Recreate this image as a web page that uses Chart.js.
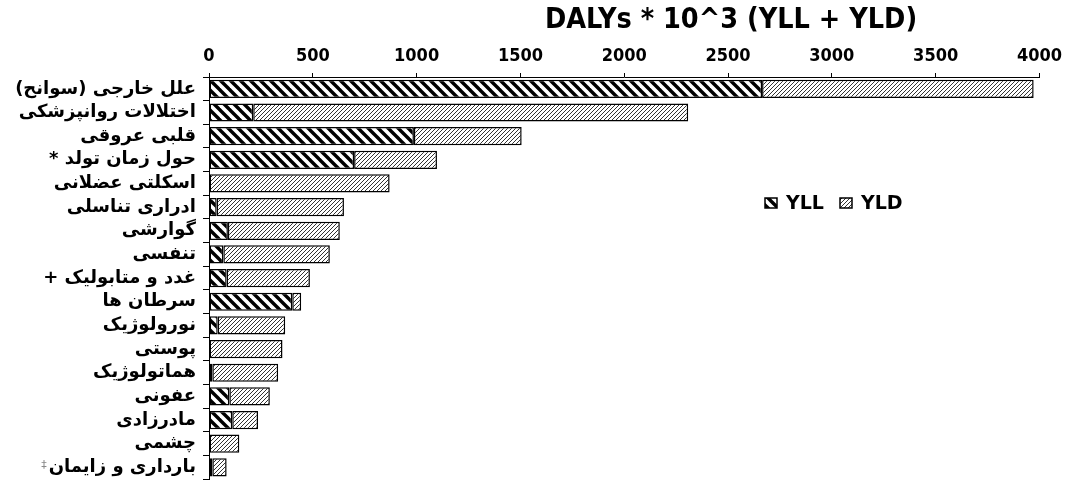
<!DOCTYPE html>
<html>
<head>
<meta charset="utf-8">
<script src="https://cdn.jsdelivr.net/npm/chart.js@4.4.1/dist/chart.umd.min.js"></script>
<style>
  html, body { margin: 0; padding: 0; background: #fff; }
  #wrap { width: 1068px; height: 497px; position: relative; }
</style>
</head>
<body>
<div id="wrap"><canvas id="c" dir="rtl"></canvas></div>
<script>
const categories = ['علل خارجی (سوانح)', 'اختلالات روانپزشکی', 'قلبی عروقی', 'حول زمان تولد *', 'اسکلتی عضلانی', 'ادراری تناسلی', 'گوارشی', 'تنفسی', 'غدد و متابولیک +', 'سرطان ها', 'نورولوژیک', 'پوستی', 'هماتولوژیک', 'عفونی', 'مادرزادی', 'چشمی', 'بارداری و زایمان'];
const yllValues = [2664, 213, 987, 699, 0, 37, 91, 69, 85, 401, 42, 0, 16, 98, 112, 0, 16];
const yldValues = [1308, 2095, 519, 399, 870, 613, 539, 513, 401, 43, 325, 354, 317, 195, 124, 146, 69];
const xTicks = [0, 500, 1000, 1500, 2000, 2500, 3000, 3500, 4000];
const titleText = 'DALYs * 10^3 (YLL + YLD)';
const seriesNames = ['YLL', 'YLD'];
const footnoteMark = '‡';

function makeStripe(period, lw, color, backslash) {
  const c = document.createElement('canvas');
  c.width = period; c.height = period;
  const g = c.getContext('2d');
  g.fillStyle = '#fff'; g.fillRect(0, 0, period, period);
  g.strokeStyle = color; g.lineWidth = lw; g.lineCap = 'square';
  for (let o = -period; o <= period; o += period) {
    g.beginPath();
    if (backslash) { g.moveTo(o, 0); g.lineTo(o + period, period); }
    else { g.moveTo(o, period); g.lineTo(o + period, 0); }
    g.stroke();
  }
  return g.createPattern(c, 'repeat');
}
const ctx = document.getElementById('c').getContext('2d');
const yllPattern = makeStripe(10, 3.4, '#000', true);
const yldPattern = makeStripe(4, 1.0, '#333', false);

const overlay = {
  id: 'overlay',
  afterDraw(chart) {
    const g = chart.ctx;
    g.save();
    g.direction = 'ltr';
    g.fillStyle = '#000';
    g.textBaseline = 'middle';
    g.textAlign = 'center';
    g.font = 'bold 28.5px "DejaVu Sans Condensed"';
    g.fillText(titleText, 731, 21);
    const items = [{x: 765, p: yllPattern, t: seriesNames[0]}, {x: 840, p: yldPattern, t: seriesNames[1]}];
    g.font = 'bold 19px "DejaVu Sans"';
    g.textAlign = 'left';
    items.forEach(it => {
      g.fillStyle = it.p;
      g.fillRect(it.x, 198, 12, 10);
      g.lineWidth = 1.5; g.strokeStyle = '#000';
      g.strokeRect(it.x, 198, 12, 10);
      g.fillStyle = '#000';
      g.fillText(it.t, it.x + 21, 204);
    });
    g.fillStyle = '#888';
    g.font = '11px "DejaVu Sans"';
    g.textAlign = 'center';
    g.fillText(footnoteMark, 44, 465);
    g.restore();
  }
};

new Chart(ctx, {
  type: 'bar',
  data: {
    labels: categories,
    datasets: [
      { label: seriesNames[0], data: yllValues, backgroundColor: yllPattern, borderColor: '#000', borderWidth: 1.5, borderSkipped: false, barPercentage: 0.77, categoryPercentage: 1 },
      { label: seriesNames[1], data: yldValues, backgroundColor: yldPattern, borderColor: '#000', borderWidth: 1.5, borderSkipped: false, barPercentage: 0.77, categoryPercentage: 1 }
    ]
  },
  options: {
    indexAxis: 'y',
    responsive: true,
    maintainAspectRatio: false,
    animation: false,
    layout: { padding: { left: 0, right: 26, top: 0, bottom: 0 } },
    plugins: { legend: { display: false }, tooltip: { enabled: false }, title: { display: false } },
    scales: {
      x: {
        position: 'top', stacked: true, min: 0, max: 4000,
        afterBuildTicks(s) { s.ticks = xTicks.map(v => ({ value: v })); },
        afterFit(s) { s.height = 77; },
        ticks: { color: '#000', font: { family: 'DejaVu Sans Condensed', size: 18, weight: 'bold' }, padding: 6, maxRotation: 0, autoSkip: false, callback: v => String(v) },
        grid: { drawOnChartArea: false, color: '#000', tickLength: 4, lineWidth: 1 },
        border: { color: '#000', width: 1 }
      },
      y: {
        stacked: true,
        afterFit(s) { s.width = 209; },
        ticks: { color: '#000', font: { family: 'DejaVu Sans', size: 18, weight: 'bold' }, padding: 7, autoSkip: false },
        grid: { drawOnChartArea: false, color: '#000', tickLength: 6, lineWidth: 1, offset: true },
        border: { color: '#000', width: 1 }
      }
    }
  },
  plugins: [overlay]
});
</script>
</body>
</html>
